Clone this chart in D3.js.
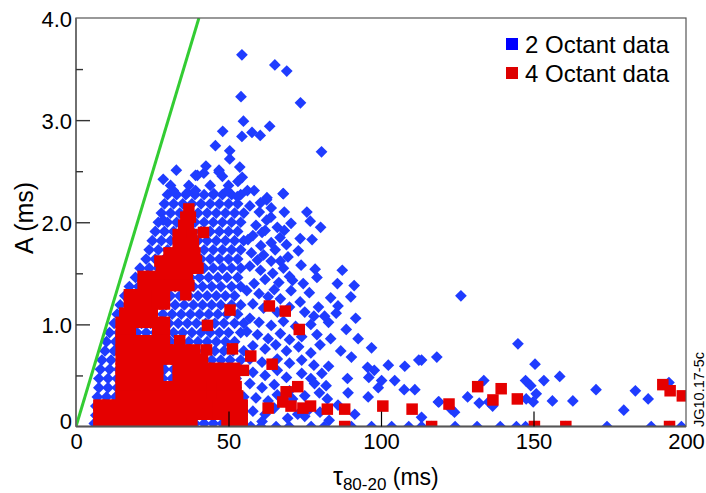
<!DOCTYPE html>
<html>
<head>
<meta charset="utf-8">
<script src="https://cdn.jsdelivr.net/npm/d3@7"></script>
<style>
  body { margin: 0; background: #fff; }
  svg text { font-family: "Liberation Sans", Arial, Helvetica, sans-serif; fill: #000; }
</style>
</head>
<body>
<svg id="chart" width="706" height="493"></svg>
<script>
// axis setup
var xDomain = [0, 200];
var yDomain = [0, 4];
var xTicks = [0, 50, 100, 150, 200];
var yTicks = [0, 1, 2, 3, 4];
var yTickLabels = ['0', '1.0', '2.0', '3.0', '4.0'];
var yMinorTicks = [0.5, 1.5, 2.5, 3.5];
var seriesNames = ['2 Octant data', '4 Octant data'];

// green reference line, tau = 10 * A
var refLine = [[0, 0], [40.3, 4.0]];

// 2 octant data: individually read points [tau, A]
var blueSparse = [
    [54.4, 3.64], [65.2, 3.54], [69.1, 3.48], [54.1, 3.23], [73.6, 3.17], [54.9, 2.99], [63.5, 2.94],
    [48.1, 2.89], [54.4, 2.84], [57.7, 2.88], [60.4, 2.85], [45.7, 2.75], [50.4, 2.70], [50.4, 2.62],
    [80.5, 2.69], [32.9, 2.51], [28.6, 2.42], [42.6, 2.55], [39.8, 2.46], [41.9, 2.48], [46.9, 2.51],
    [48.0, 2.45], [53.7, 2.54], [54.5, 2.44], [53.1, 2.40], [31.9, 2.31], [36.5, 2.29], [39.2, 2.31],
    [45.2, 2.28], [49.6, 2.31], [58.4, 2.31], [67.9, 2.28], [52.9, 2.25], [62.6, 2.24], [39.2, 2.46],
    [46.9, 2.49], [56.2, 2.31], [68.0, 2.28], [62.5, 2.22], [68.3, 2.10], [75.7, 2.10],
    [76.8, 2.01], [60.1, 2.10], [63.9, 2.05], [70.5, 1.99], [62.0, 1.92], [68.3, 1.92], [73.5, 1.84],
    [77.4, 1.83], [66.9, 1.85], [56.4, 1.83], [60.6, 1.77], [65.3, 1.73], [72.9, 1.72], [59.5, 1.63],
    [67.0, 1.62], [73.8, 1.58], [78.4, 1.54], [87.3, 1.53], [70.0, 1.47], [58.4, 1.40], [85.7, 1.40],
    [91.2, 1.38], [76.5, 1.31], [65.0, 1.34], [83.5, 1.26], [90.1, 1.27], [79.5, 1.17], [85.9, 1.18],
    [85.3, 1.11], [91.7, 1.06], [82.8, 1.02], [88.6, 0.95], [92.5, 0.86], [96.9, 0.77], [83.5, 0.86],
    [86.8, 0.74], [90.3, 0.68], [82.8, 0.59], [95.6, 0.58], [97.8, 0.55], [102.4, 0.60], [107.8, 0.59],
    [112.4, 0.65], [118.3, 0.68], [89.0, 0.47], [96.0, 0.48], [100.2, 0.45], [104.5, 0.45], [107.6, 0.36],
    [111.1, 0.36], [99.1, 0.38], [95.8, 0.29], [89.2, 0.33], [91.4, 0.12], [113.3, 0.09], [118.8, 0.24],
    [78.2, 0.42], [82.0, 0.40], [82.4, 0.27], [85.9, 0.21], [76.5, 0.17], [72.7, 0.12], [69.4, 0.08],
    [126.2, 1.28], [144.9, 0.81], [113.3, 0.65], [150.5, 0.61], [133.7, 0.45], [147.4, 0.45], [149.1, 0.40],
    [153.4, 0.45], [158.6, 0.49], [150.9, 0.32], [170.5, 0.36], [183.4, 0.35], [187.6, 0.27], [194.4, 0.43],
    [128.4, 0.29], [132.2, 0.23], [135.3, 0.24], [136.6, 0.20], [147.6, 0.27], [149.9, 0.24], [156.2, 0.25],
    [162.9, 0.25], [119.0, 0.24], [123.0, 0.17], [124.1, 0.14], [179.6, 0.16],
    [28.6, 2.02], [80.2, 1.95], [79.0, 1.46], [81.5, 1.08], [80.6, 0.52], [79.8, 0.33]
];
// 2 octant: the looser band right of the core, tau 55-85
var blueOuter = [
    [57, 2.16], [60.5, 2.19], [64, 2.14], [59, 1.97], [62.5, 2.02], [66, 1.95], [58, 1.87], [61, 1.90],
    [64, 1.80], [69, 1.78], [57.5, 1.70], [61.5, 1.68], [64, 1.62], [69.5, 1.66], [57, 1.57], [60.5, 1.53],
    [64.5, 1.50], [68, 1.55], [62, 1.44], [66.5, 1.41], [71, 1.43], [74.5, 1.40], [56, 1.33], [60, 1.30],
    [63, 1.27], [67, 1.25], [70.5, 1.33], [73.5, 1.22], [58, 1.20], [61.5, 1.16], [66, 1.12], [70, 1.17],
    [75, 1.12], [78, 1.08], [57, 1.06], [60, 1.02], [64, 0.99], [68, 1.03], [72, 0.98], [77, 1.00],
    [56, 0.93], [59.5, 0.90], [63, 0.86], [67, 0.91], [70, 0.85], [74, 0.88], [79, 0.90], [58, 0.79],
    [62, 0.76], [65.5, 0.80], [69, 0.74], [73, 0.78], [77, 0.72], [80, 0.80], [57, 0.66], [61, 0.63],
    [66, 0.66], [70, 0.62], [74, 0.65], [78, 0.60], [58, 0.53], [62, 0.50], [66, 0.55], [69, 0.48],
    [74, 0.52], [77, 0.47], [57, 0.42], [61, 0.38], [65, 0.41], [70, 0.35], [75, 0.30], [59, 0.28],
    [63, 0.25], [66, 0.31], [71, 0.27], [58, 0.15], [62, 0.12], [65, 0.18], [75, 0.10], [80, 0.14],
    [61, 0.05], [83, 0.06]
];
// 2 octant points sitting on the axis (cut in half by it)
var blueOnAxis = [57.3, 60.6, 65.6, 69.9, 77.1, 81.4, 90.3, 96.9, 103.5, 109.1, 113.3, 116.6, 124.3,
    131.5, 139.1, 144.4, 147.4, 160.6, 174.1, 188.6, 194.6, 198.5];
// 2 octant: dense core, read row by row [A, taus]
var blueRows = [
    [2.36, [31, 37, 44, 50]],
    [2.27, [30, 33, 36, 39, 42, 45, 48, 51, 54]],
    [2.18, [29, 32, 35, 38, 41, 44, 47, 50, 53]],
    [2.09, [28, 31, 34, 37, 40, 43, 46, 49, 52, 55]],
    [2.00, [27, 30, 33, 36, 39, 42, 45, 48, 51, 54]],
    [1.91, [26, 29, 32, 35, 38, 41, 44, 47, 50, 53]],
    [1.82, [25, 28, 31, 34, 37, 40, 43, 46, 49, 52, 55]],
    [1.73, [24, 27, 30, 33, 36, 39, 42, 45, 48, 51, 54]],
    [1.64, [23, 26, 29, 32, 35, 38, 41, 44, 47, 50, 53]],
    [1.55, [21, 24, 27, 30, 33, 36, 39, 42, 45, 48, 51, 54]],
    [1.46, [19.5, 22.5, 25.5, 28.5, 31.5, 34.5, 37.5, 40.5, 43.5, 46.5, 49.5, 53]],
    [1.37, [17.5, 20.5, 23.5, 26.5, 29.5, 32.5, 35.5, 38.5, 41.5, 44.5, 47.5, 51, 54]],
    [1.28, [16, 19, 22, 25, 28, 31, 34, 37, 40, 43, 46, 49, 52]],
    [1.19, [14.5, 17.5, 20.5, 23.5, 26.5, 29.5, 32.5, 35.5, 38.5, 41.5, 44.5, 47.5, 51, 54]],
    [1.10, [13.5, 16.5, 19.5, 22.5, 25.5, 28.5, 31.5, 34.5, 37.5, 40.5, 43.5, 46.5, 49.5, 53]],
    [1.01, [12.5, 15.5, 18.5, 21.5, 24.5, 27.5, 30.5, 33.5, 36.5, 39.5, 42.5, 45.5, 48.5, 52, 55]],
    [0.92, [11, 14, 17, 20, 23, 26, 29, 32, 35, 38, 41, 44, 47, 50, 54]],
    [0.83, [10, 13, 16, 19, 22, 25, 28, 31, 34, 37, 40, 43, 46, 49, 52]],
    [0.74, [9.5, 12.5, 15.5, 18.5, 21.5, 24.5, 27.5, 30.5, 33.5, 36.5, 39.5, 42.5, 45.5, 48.5, 51.5, 55]],
    [0.65, [8.5, 11.5, 14.5, 17.5, 20.5, 23.5, 26.5, 29.5, 32.5, 35.5, 38.5, 41.5, 44.5, 47.5, 50.5, 54]],
    [0.56, [8, 11, 14, 17, 20, 23, 26, 29, 32, 35, 38, 41, 44, 47, 50, 53]],
    [0.47, [7.5, 10.5, 13.5, 16.5, 19.5, 22.5, 25.5, 28.5, 31.5, 34.5, 37.5, 40.5, 43.5, 46.5, 49.5, 52.5]],
    [0.38, [7.5, 10.5, 13.5, 16.5, 19.5, 22.5, 25.5, 28.5, 31.5, 34.5, 37.5, 40.5, 43.5, 46.5, 49.5, 52.5]],
    [0.29, [7, 10, 13, 16, 19, 22, 25, 28, 31, 34, 37, 40, 43, 46, 49, 52, 55]],
    [0.20, [6.5, 9.5, 12.5, 15.5, 18.5, 21.5, 24.5, 27.5, 30.5, 33.5, 36.5, 39.5, 42.5, 45.5, 48.5, 51.5, 54.5]],
    [0.11, [6.5, 9.5, 12.5, 15.5, 18.5, 21.5, 24.5, 27.5, 30.5, 33.5, 36.5, 39.5, 42.5, 45.5, 48.5, 51.5, 54.5]],
    [0.03, [6, 9, 12, 15, 18, 21, 24, 27, 30, 33, 36, 39, 42, 45, 48, 51, 54]]
];

// 4 octant data
var redSparse = [
    [63.4, 1.18], [68.6, 1.13], [73.2, 0.95], [57.3, 0.69], [64.3, 0.61], [54.9, 0.55], [72.7, 0.39],
    [68.9, 0.34], [67.8, 0.24], [70.5, 0.20], [74.4, 0.18], [76.9, 0.20], [63.0, 0.18], [82.4, 0.17],
    [88.1, 0.17], [100.6, 0.20], [110.2, 0.17], [131.7, 0.39], [139.4, 0.37], [122.3, 0.22], [136.7, 0.26],
    [144.7, 0.27], [192.4, 0.41], [194.8, 0.35], [198.8, 0.30], [50.5, 1.14], [43.1, 0.99], [51.3, 0.76],
    [41.8, 1.90]
];
var redOnAxis = [88.1, 116.6, 150.3, 160.6, 194.6];
var redRows = [
    [2.13, [37]],
    [2.05, [36, 37.5]],
    [1.97, [35.3, 36.8]],
    [1.88, [33.5, 36, 38]],
    [1.79, [33.5, 36, 38.5]],
    [1.70, [30.5, 33.5, 36.5, 39]],
    [1.62, [27.5, 30.5, 33.5, 36.5, 39.5]],
    [1.55, [28, 31, 34, 37, 40]],
    [1.47, [22, 25, 28, 31, 34, 36.5]],
    [1.38, [22, 25, 28, 31, 34, 37]],
    [1.29, [17.5, 20.5, 23.5, 26.5, 29, 36]],
    [1.20, [17.5, 20.5, 23.5, 26.5, 29]],
    [1.11, [16, 19, 22, 25]],
    [1.02, [14.8, 17.8, 20.8, 23.8, 26.8, 29]],
    [0.93, [14.8, 17.8, 26.8, 29]],
    [0.84, [14.8, 17.8, 20.8, 23.8, 26.8, 29, 34]],
    [0.75, [14.8, 17.8, 20.8, 23.8, 26.8, 29.8, 32.8, 35.8, 39, 42.8]],
    [0.66, [14.8, 17.8, 20.8, 23.8, 26.8, 29.8, 32.8, 35.8, 38.8, 41.5]],
    [0.57, [14.8, 17.8, 20.8, 23.8, 26.8, 33.5, 36.5, 39.5, 42.5, 45.5, 48.5, 52]],
    [0.48, [14.8, 17.8, 20.8, 23.8, 26.8, 33.5, 36.5, 39.5, 42.5, 45.5, 48.5, 52]],
    [0.39, [14.8, 17.8, 20.8, 23.8, 26.8, 29.8, 32.8, 35.8, 38.8, 41.8, 44.8, 47.8, 50.8, 52.5]],
    [0.30, [14.8, 17.8, 20.8, 23.8, 26.8, 29.8, 32.8, 35.8, 38.8, 41.8, 44.8, 47.8, 50.8, 53]],
    [0.21, [7.5, 10.5, 13.5, 16.5, 19.5, 22.5, 25.5, 28.5, 31.5, 34.5, 37.5, 40.5, 43.5, 46.5, 49.5, 52.5, 54.5]],
    [0.12, [7.5, 10.5, 13.5, 16.5, 19.5, 22.5, 25.5, 28.5, 31.5, 34.5, 37.5, 40.5, 43.5, 46.5, 49.5, 52.5, 54.5]],
    [0.03, [7.5, 10.5, 13.5, 16.5, 19.5, 22.5, 25.5, 28.5, 31.5, 34.5, 38, 49.5, 52.5, 54.5]]
];

var blueColor = '#1f3cff';
var redColor = '#e50000';
var greenColor = '#33cc33';

var svg = d3.select('#chart');
var plotLeft = 76, plotRight = 686, plotTop = 18, plotBottom = 426.5;

var x = d3.scaleLinear().domain(xDomain).range([plotLeft, plotRight]);
var y = d3.scaleLinear().domain(yDomain).range([plotBottom, plotTop]);

var fromRows = function (rows) {
    var out = [];
    rows.forEach(function (r) {
        r[1].forEach(function (t) {
            out.push([t, r[0]]);
        });
    });
    return out;
};

var bluePoints = fromRows(blueRows)
    .concat(blueOuter)
    .concat(blueSparse)
    .concat(blueOnAxis.map(function (t) { return [t, 0]; }));
var redPoints = fromRows(redRows)
    .concat(redSparse)
    .concat(redOnAxis.map(function (t) { return [t, 0]; }));

svg.append('clipPath').attr('id', 'plotclip')
    .append('rect')
    .attr('x', plotLeft).attr('y', plotTop)
    .attr('width', plotRight - plotLeft).attr('height', plotBottom - plotTop);

var plot = svg.append('g').attr('clip-path', 'url(#plotclip)');

// 2 octant: diamonds
var ds = 8.3;
plot.selectAll('rect.blue')
    .data(bluePoints)
    .enter()
    .append('rect')
    .attr('class', 'blue')
    .attr('x', -ds / 2).attr('y', -ds / 2)
    .attr('width', ds).attr('height', ds)
    .attr('transform', function (d) {
        return 'translate(' + x(d[0]) + ',' + y(d[1]) + ') rotate(45)';
    })
    .style('fill', blueColor);

// 4 octant: squares
var rs = 11.5;
plot.selectAll('rect.red')
    .data(redPoints)
    .enter()
    .append('rect')
    .attr('class', 'red')
    .attr('x', function (d) { return x(d[0]) - rs / 2; })
    .attr('y', function (d) { return y(d[1]) - rs / 2; })
    .attr('width', rs).attr('height', rs)
    .style('fill', redColor);

plot.append('path')
    .datum(refLine)
    .attr('d', d3.line().x(function (d) { return x(d[0]); }).y(function (d) { return y(d[1]); }))
    .style('fill', 'none')
    .style('stroke', greenColor)
    .style('stroke-width', 3);

// frame
svg.append('rect')
    .attr('x', plotLeft).attr('y', plotTop)
    .attr('width', plotRight - plotLeft).attr('height', plotBottom - plotTop)
    .style('fill', 'none').style('stroke', '#555').style('stroke-width', 1.2);
svg.append('line')
    .attr('x1', plotLeft).attr('x2', plotRight).attr('y1', plotBottom).attr('y2', plotBottom)
    .style('stroke', '#555').style('stroke-width', 2);
svg.append('line')
    .attr('x1', plotLeft).attr('x2', plotLeft).attr('y1', plotTop).attr('y2', plotBottom)
    .style('stroke', '#666').style('stroke-width', 1.6);

// y axis, ticks pointing into the plot
var yAxis = d3.axisLeft(y)
    .tickValues(yTicks)
    .tickSizeInner(-14).tickSizeOuter(0)
    .tickPadding(4)
    .tickFormat(function (d, i) { return yTickLabels[i]; });
var gy = svg.append('g').attr('transform', 'translate(' + plotLeft + ',0)').call(yAxis);
gy.select('.domain').remove();
gy.selectAll('.tick line').style('stroke', '#333').style('stroke-width', 1.4)
    .filter(function (d) { return d === 0 || d === 4; }).remove();
gy.selectAll('.tick text')
    .style('font-size', '22px')
    .style('font-family', '"Liberation Sans", Arial, sans-serif')
    .attr('dy', function (d) { return d === 0 ? '0.1em' : '0.38em'; });

var gyMinor = svg.append('g').attr('transform', 'translate(' + plotLeft + ',0)')
    .call(d3.axisLeft(y).tickValues(yMinorTicks).tickSizeInner(-7).tickSizeOuter(0).tickFormat(''));
gyMinor.select('.domain').remove();
gyMinor.selectAll('.tick line').style('stroke', '#333').style('stroke-width', 1.4);

// x axis
var xAxis = d3.axisBottom(x)
    .tickValues(xTicks)
    .tickSizeInner(-15).tickSizeOuter(0)
    .tickPadding(7)
    .tickFormat(d3.format('d'));
var gx = svg.append('g').attr('transform', 'translate(0,' + plotBottom + ')').call(xAxis);
gx.select('.domain').remove();
gx.selectAll('.tick line').style('stroke', '#000').style('stroke-width', 1.2)
    .filter(function (d) { return d === 0 || d === 200; }).remove();
gx.selectAll('.tick text')
    .style('font-size', '22px')
    .style('font-family', '"Liberation Sans", Arial, sans-serif');

// axis titles
svg.append('text')
    .attr('transform', 'translate(33,218) rotate(-90)')
    .attr('text-anchor', 'middle')
    .style('font-size', '25px')
    .text('A (ms)');

var xt = svg.append('text')
    .attr('x', 333).attr('y', 485)
    .style('font-size', '25px');
xt.append('tspan').text('τ');
xt.append('tspan').attr('dy', 5).style('font-size', '17px').text('80-20');
xt.append('tspan').attr('dy', -5).style('font-size', '23px').text(' (ms)');

// legend
var legend = svg.append('g');
legend.selectAll('rect')
    .data(seriesNames)
    .enter()
    .append('rect')
    .attr('x', 506)
    .attr('y', function (d, i) { return 38 + i * 29; })
    .attr('width', 12).attr('height', 12)
    .style('fill', function (d, i) { return i === 0 ? '#0000ff' : '#dd0000'; });
legend.selectAll('text')
    .data(seriesNames)
    .enter()
    .append('text')
    .attr('x', 525)
    .attr('y', function (d, i) { return 52.5 + i * 29; })
    .style('font-size', '24px')
    .text(function (d) { return d; });

// figure id
svg.append('text')
    .attr('transform', 'translate(704,427) rotate(-90)')
    .style('font-size', '14.5px')
    .text('JG10.17-5c');
</script>
</body>
</html>
